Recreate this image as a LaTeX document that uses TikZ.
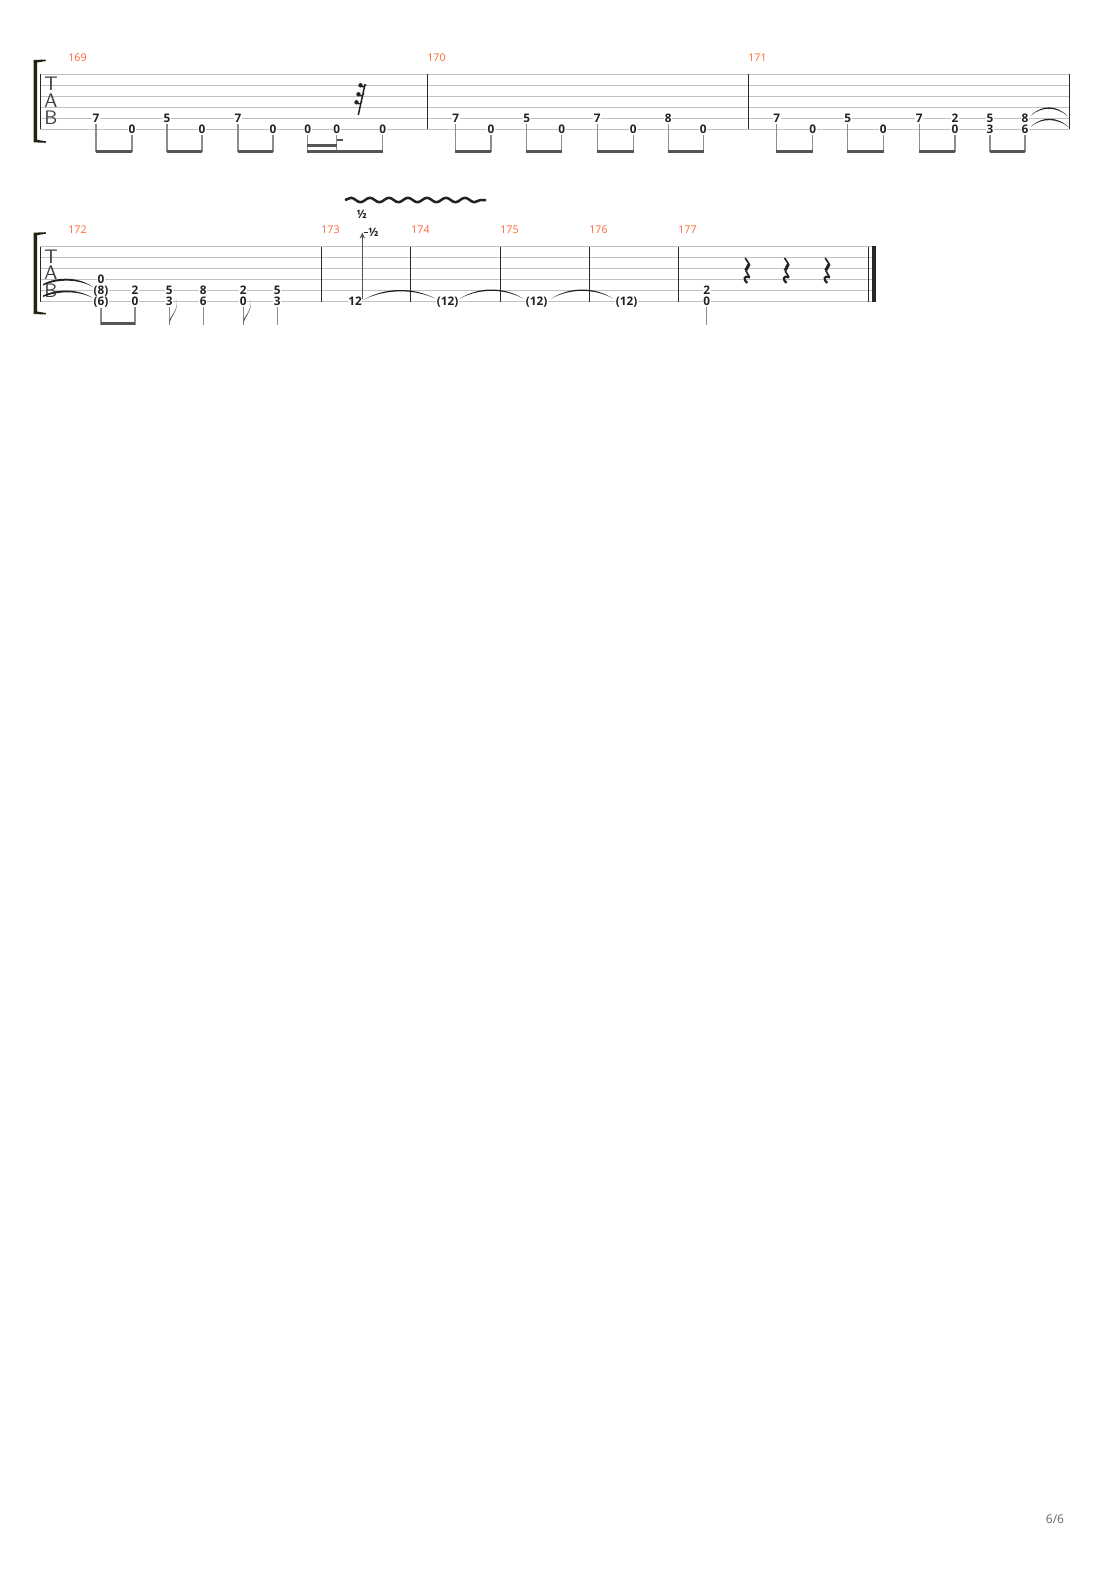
\documentclass[tikz,border=0pt]{standalone}
\usepackage{fontspec}
\setmainfont{Open Sans}
\usetikzlibrary{calc,arrows.meta,decorations.pathmorphing}
\definecolor{mnum}{RGB}{255,102,51}
\definecolor{staffgray}{RGB}{192,192,192}
\definecolor{stemgray}{RGB}{140,140,140}
\definecolor{beamgray}{RGB}{85,85,85}
\definecolor{bardark}{RGB}{40,40,40}
\definecolor{brk}{RGB}{35,35,20}
\definecolor{notecol}{RGB}{34,34,34}
\newcommand{\tiearc}[3]{%
  \fill[notecol] (#1) .. controls ($(#1)!0.3!(#2)+(0,-#3)$) and ($(#1)!0.7!(#2)+(0,-#3)$) .. (#2)
   .. controls ($(#1)!0.7!(#2)+(0,{-#3+1.8})$) and ($(#1)!0.3!(#2)+(0,{-#3+1.8})$) .. (#1) -- cycle;}
\newcommand{\eflag}[1]{%
  \fill[beamgray] (#1,324) .. controls (#1+2,315) and (#1+9,312) .. (#1+7.5,299)
   .. controls (#1+8.5,310) and (#1+3,314) .. (#1,320) -- cycle;}
\newcommand{\qrest}[1]{%
  \draw[notecol,line width=0.8pt,line join=round] (#1-1.5,258) -- (#1+2.5,264);
  \draw[notecol,line width=1.5pt,line join=round] (#1+2.5,264) -- (#1-1,270.5);
  \draw[notecol,line width=0.8pt,line join=round] (#1-1,270.5) -- (#1+3,277.5);
  \draw[notecol,line width=1.1pt] (#1+3,277.5) .. controls (#1-3,274.5) and (#1-3.5,280) .. (#1+0.5,283);}
\newcommand{\brackt}[2]{%
  \fill[brk] (33.5,#1) -- (45.5,#1-0.5) -- (46,#1+1) .. controls (42,#1+2) .. (37,#1+2.5)
   -- (37,#2-2.5) .. controls (42,#2-2) .. (46,#2-1) -- (45.5,#2+0.5) -- (33.5,#2) -- cycle;}
\begin{document}
\begin{tikzpicture}[x=0.5pt,y=-0.5pt,
  fret/.style={font=\fontsize{5.9}{6}\selectfont\bfseries, text=notecol, fill=white, inner sep=0.35pt},
  mnumber/.style={font=\fontsize{5.3}{6}\selectfont, text=mnum, anchor=west, inner sep=0},
  staffline/.style={staffgray, line width=0.5pt},
  barline/.style={bardark, line width=0.6pt},
  stemline/.style={stemgray, line width=0.55pt},
  beamline/.style={beamgray, line width=1.4pt},
  tabletter/.style={font=\sffamily\fontsize{9.8}{10}\selectfont, inner sep=0, text height=6.6pt, text depth=0pt, text=black!75},
  smalltxt/.style={font=\fontsize{5.8}{6}\selectfont\bfseries, text=notecol, inner sep=0}]
\useasboundingbox[fill=white] (0,0) rectangle (1110,1570);

% ================= STAFF 1 =================
\foreach \yy in {74.3,85.3,96.3,107.3,118.3,129.3} \draw[staffline] (40,\yy) -- (1070,\yy);
\draw[bardark,line width=0.4pt] (40.5,74.3) -- (40.5,129.3);
\brackt{60}{142.3}
\foreach \xx in {427.5,748.3,1069.5} \draw[barline] (\xx,74.3) -- (\xx,129.3);
\node[tabletter] (t1) at (51,84.2) {T};
\node[tabletter] (a1) at (51,100.5) {A};
\node[tabletter] (b1) at (51,118.3) {B};
\node[mnumber] (m169) at (68,58) {169};
\node[mnumber] (m170) at (427,58) {170};
\node[mnumber] (m171) at (748,58) {171};

% stems staff 1
\foreach \xx/\ys in {96/124,132/134.5,167/124,202/134.5,238/124,273/134.5,307.7/134.5,336.7/134.5,382.7/134.5,
  455.7/124,491/134.5,526.7/124,561.7/134.5,597.3/124,633.3/134.5,668.3/124,703.3/134.5,
  776.7/124,812.7/134.5,847.7/124,883.3/134.5,919.3/124,955/134.5,990/134.5,1025/134.5}
  \draw[stemline] (\xx,\ys) -- (\xx,151.5);
% beams staff 1
\foreach \xa/\xb in {96/132,167/202,238/273,307.7/382.7,455.7/491,526.7/561.7,597.3/633.3,668.3/703.3,
  776.7/812.7,847.7/883.3,919.3/955,990/1025}
  \draw[beamline] (\xa-0.3,151.5) -- (\xb+0.3,151.5);
\draw[beamline] (307.4,145.8) -- (337,145.8);
\draw[beamgray,line width=0.9pt] (337,139.8) -- (343,139.8);

% frets staff 1
\foreach \xx/\yy/\tt [count=\i] in {96/118.3/7,132/129.3/0,167/118.3/5,202/129.3/0,238/118.3/7,273/129.3/0,
  307.7/129.3/0,336.7/129.3/0,382.7/129.3/0,
  455.7/118.3/7,491/129.3/0,526.7/118.3/5,561.7/129.3/0,597.3/118.3/7,633.3/129.3/0,668.3/118.3/8,703.3/129.3/0,
  776.7/118.3/7,812.7/129.3/0,847.7/118.3/5,883.3/129.3/0,919.3/118.3/7,
  955/118.3/2,955/129.3/0,990/118.3/5,990/129.3/3,1025/118.3/8,1025/129.3/6}
  \node[fret] (f\i) at (\xx,\yy) {\tt};

% 32nd rest
\draw[notecol,line width=0.75pt] (365,84.3) -- (358.3,115);
\foreach \dy/\dx in {85.3/360.5,94.3/358.5,102.3/356.5} {
  \fill[notecol] (\dx,\dy) circle (2.2);
  \draw[notecol,line width=0.6pt] (\dx,\dy+1) .. controls (\dx+3,\dy+2) .. (\dx+5.6,\dy-0.8);
}

% ties end of 171
\tiearc{1031,115.5}{1068,116.5}{11.5}
\tiearc{1031,126.5}{1069,127.5}{11}

% ================= STAFF 2 =================
\foreach \yy in {246.7,257.7,268.7,279.7,290.7,301.7} \draw[staffline] (40,\yy) -- (872,\yy);
\draw[bardark,line width=0.4pt] (40.5,246.7) -- (40.5,301.7);
\brackt{232.7}{314}
\foreach \xx in {321.7,410.3,500.3,589.3,678.3,868.7} \draw[barline] (\xx,246.7) -- (\xx,301.7);
\fill[bardark] (871.6,246.4) rectangle (876,302);
\node[tabletter] (t2) at (51,256.6) {T};
\node[tabletter] (a2) at (51,272.9) {A};
\node[tabletter] (b2) at (51,290.7) {B};
\node[mnumber] (m172) at (68,230) {172};
\node[mnumber] (m173) at (321,230) {173};
\node[mnumber] (m174) at (411,230) {174};
\node[mnumber] (m175) at (500,230) {175};
\node[mnumber] (m176) at (589,230) {176};
\node[mnumber] (m177) at (678,230) {177};

% ties into 172
\fill[notecol] (43,284) .. controls (58,276) and (80,277) .. (93.5,287.5)
  .. controls (80,279) and (58,278.5) .. (43,285.5) -- cycle;
\fill[notecol] (43,295.5) .. controls (58,288) and (80,289) .. (93.5,298.5)
  .. controls (80,290.5) and (58,290.5) .. (43,297) -- cycle;

% stems staff 2
\foreach \xx in {101,135,169.3,203.3,243.3,277.3,706.7}
  \draw[stemline] (\xx,307) -- (\xx,324.5);
\draw[beamline] (100.7,323.3) -- (135.3,323.3);
\eflag{169.3}
\eflag{243.3}

% frets staff 2
\foreach \xx/\yy/\tt [count=\i] in {101/279.7/0,101/290.7/(8),101/301.7/(6),135/290.7/2,135/301.7/0,
  169.3/290.7/5,169.3/301.7/3,203.3/290.7/8,203.3/301.7/6,243.3/290.7/2,243.3/301.7/0,277.3/290.7/5,277.3/301.7/3,
  355/301.7/12,447.7/301.7/(12),536.7/301.7/(12),626.7/301.7/(12),706.7/290.7/2,706.7/301.7/0}
  \node[fret] (g\i) at (\xx,\yy) {\tt};

% ties 173-176
\tiearc{364,299.5}{435,298.5}{12}
\tiearc{460,298.5}{523,298.5}{12}
\tiearc{551.5,298.5}{613,298.5}{12}

% bend
\coordinate (bendfoot) at (362.3,299);
\coordinate (bendtop) at (362.3,232.5);
\draw[bardark!80,line width=0.55pt,-{Stealth[length=3pt,width=2.6pt]}] (bendfoot) -- (bendtop);
\node[smalltxt] (bendlab) at (373.5,232.8) {½};
\draw[bardark,line width=0.5pt] (363.5,232) -- (367.5,232);
\node[smalltxt] (bendlab2) at (361.7,214) {½};

% vibrato
\draw[notecol,line width=1.25pt,decorate,decoration={snake,segment length=9.5,amplitude=1.1}] (345,200) -- (486,200);

% rests 177
\qrest{746.7}
\qrest{786}
\qrest{826.7}

% page number
\node[font=\fontsize{6}{7}\selectfont, text=black!60, inner sep=0] (pg) at (1055,1519) {6/6};
\end{tikzpicture}
\end{document}
